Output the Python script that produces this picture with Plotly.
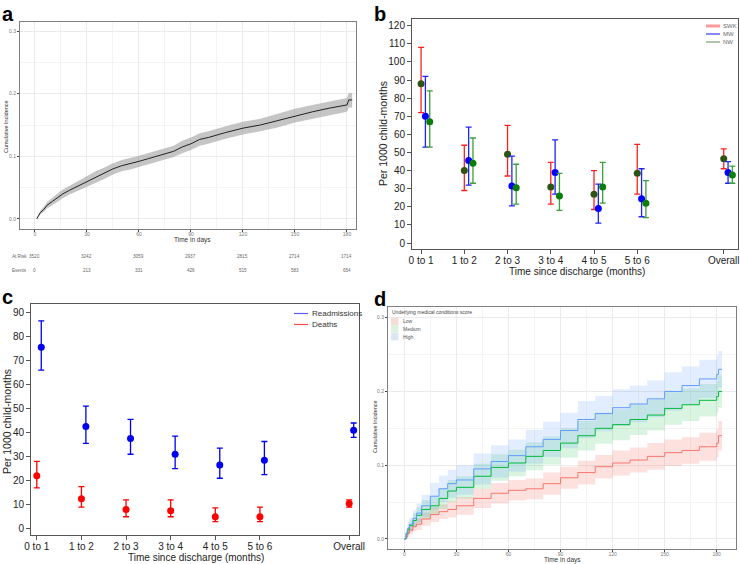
import plotly.graph_objects as go

# ---------------- Panel a data ----------------
a_days = [1, 2, 3, 5, 7, 10, 13, 16, 20, 25, 30, 35, 40, 45, 50, 55, 60, 65, 70, 75, 80, 85, 90, 95, 100,
          110, 120, 130, 140, 150, 160, 170, 180, 181, 183]
a_ci = [0.0, 0.005, 0.010, 0.015, 0.022, 0.028, 0.034, 0.040, 0.046, 0.053, 0.060, 0.067, 0.073, 0.080, 0.085,
        0.088, 0.092, 0.096, 0.100, 0.103, 0.108, 0.115, 0.120, 0.127, 0.130, 0.138, 0.145, 0.150, 0.157, 0.165,
        0.171, 0.177, 0.182, 0.190, 0.190]
a_lo = [0.0, 0.003, 0.007, 0.011, 0.017, 0.022, 0.028, 0.033, 0.039, 0.045, 0.052, 0.058, 0.064, 0.071, 0.076,
        0.079, 0.083, 0.087, 0.091, 0.094, 0.099, 0.105, 0.110, 0.117, 0.120, 0.128, 0.135, 0.140, 0.146, 0.154,
        0.160, 0.166, 0.171, 0.178, 0.178]
a_hi = [0.0, 0.008, 0.013, 0.019, 0.027, 0.034, 0.040, 0.047, 0.053, 0.061, 0.068, 0.076, 0.082, 0.089, 0.094,
        0.097, 0.101, 0.105, 0.109, 0.112, 0.117, 0.125, 0.130, 0.137, 0.140, 0.148, 0.155, 0.160, 0.168, 0.176,
        0.182, 0.188, 0.193, 0.201, 0.201]
a_table_days = [0, 30, 60, 90, 120, 150, 180]
a_at_risk = ["3520", "3242", "3059", "2937", "2815", "2714", "1714"]
a_events = ["0", "213", "331", "426", "515", "583", "654"]

# ---------------- Panel b data ----------------
b_cats = ["0 to 1", "1 to 2", "2 to 3", "3 to 4", "4 to 5", "5 to 6", "Overall"]
b_pos = [0, 1, 2, 3, 4, 5, 7]
b_series = ["SWK", "MW", "NW"]
b_val = {
    "SWK": [88, 40, 49, 31, 27, 38.5, 46.5],
    "MW": [70, 45.5, 31.5, 39, 19, 24.5, 39],
    "NW": [67, 44, 30.5, 26, 31, 22, 37.5],
}
b_lo = {
    "SWK": [72, 29, 37, 21.5, 18.5, 27, 41],
    "MW": [53, 32, 20.5, 27, 11, 14.5, 33],
    "NW": [53, 33, 21.5, 18, 22, 14, 33],
}
b_hi = {
    "SWK": [108, 54, 65, 44.5, 40, 54.5, 52],
    "MW": [92, 64, 48, 57, 32.5, 41, 45],
    "NW": [84, 58, 43.5, 38.5, 44.5, 34.5, 42.5],
}

# ---------------- Panel c data ----------------
c_series = ["Readmissions", "Deaths"]
c_val = {
    "Readmissions": [75.5, 42.5, 37.5, 31, 26.5, 28.5, 41],
    "Deaths": [22, 12.5, 8, 7.5, 5, 5, 10.5],
}
c_lo = {
    "Readmissions": [66, 35.5, 31, 25, 21, 22.5, 38],
    "Deaths": [17, 9, 5, 5, 3, 3, 9],
}
c_hi = {
    "Readmissions": [86.5, 51, 45.5, 38.5, 33.5, 36.3, 44],
    "Deaths": [28, 17.5, 12, 12, 8.7, 9, 12],
}

# ---------------- Panel d data ----------------
d_days = [0, 1, 2, 3, 5, 7, 10, 15, 20, 25, 30, 40, 50, 60, 70, 80, 90, 100, 110, 120, 130, 140, 150,
          160, 170, 180, 181, 183]
d_groups = ["Low", "Medium", "High"]
d_ci = {
    "High": [0, 0.008, 0.015, 0.020, 0.028, 0.035, 0.045, 0.058, 0.068, 0.075, 0.080, 0.095, 0.105, 0.113,
             0.125, 0.135, 0.147, 0.162, 0.170, 0.178, 0.183, 0.190, 0.200, 0.208, 0.217, 0.223, 0.230, 0.230],
    "Medium": [0, 0.007, 0.013, 0.018, 0.025, 0.032, 0.040, 0.045, 0.055, 0.065, 0.070, 0.085, 0.097, 0.103,
               0.112, 0.120, 0.130, 0.140, 0.150, 0.155, 0.162, 0.168, 0.177, 0.182, 0.188, 0.193, 0.200, 0.200],
    "Low": [0, 0.003, 0.008, 0.012, 0.017, 0.020, 0.027, 0.033, 0.037, 0.040, 0.045, 0.055, 0.062, 0.066,
            0.068, 0.075, 0.083, 0.090, 0.098, 0.103, 0.107, 0.112, 0.117, 0.120, 0.125, 0.130, 0.140, 0.140],
}
d_lo = {
    "High": [0, 0.002, 0.007, 0.011, 0.017, 0.022, 0.030, 0.040, 0.050, 0.056, 0.060, 0.074, 0.083, 0.091,
             0.102, 0.111, 0.123, 0.137, 0.146, 0.153, 0.158, 0.165, 0.174, 0.182, 0.191, 0.196, 0.205, 0.205],
    "Medium": [0, 0.002, 0.006, 0.010, 0.015, 0.021, 0.027, 0.032, 0.041, 0.050, 0.055, 0.068, 0.079, 0.085,
               0.093, 0.101, 0.110, 0.120, 0.129, 0.134, 0.141, 0.147, 0.155, 0.160, 0.166, 0.171, 0.178, 0.178],
    "Low": [0, 0.000, 0.003, 0.006, 0.010, 0.012, 0.018, 0.023, 0.027, 0.029, 0.033, 0.042, 0.048, 0.052,
            0.054, 0.060, 0.068, 0.074, 0.082, 0.086, 0.090, 0.094, 0.099, 0.102, 0.106, 0.111, 0.120, 0.120],
}
d_hi = {
    "High": [0, 0.014, 0.023, 0.029, 0.039, 0.048, 0.060, 0.076, 0.086, 0.094, 0.100, 0.116, 0.127, 0.135,
             0.148, 0.159, 0.171, 0.187, 0.194, 0.203, 0.208, 0.215, 0.226, 0.234, 0.243, 0.249, 0.255, 0.255],
    "Medium": [0, 0.012, 0.020, 0.026, 0.035, 0.043, 0.053, 0.058, 0.069, 0.080, 0.085, 0.102, 0.115, 0.121,
               0.131, 0.139, 0.150, 0.160, 0.171, 0.176, 0.183, 0.189, 0.199, 0.204, 0.210, 0.215, 0.222, 0.222],
    "Low": [0, 0.006, 0.013, 0.018, 0.024, 0.028, 0.036, 0.043, 0.047, 0.051, 0.057, 0.068, 0.076, 0.080,
            0.082, 0.090, 0.098, 0.106, 0.114, 0.120, 0.124, 0.130, 0.135, 0.138, 0.144, 0.149, 0.160, 0.160],
}

# ---------------- styles ----------------
W, H = 740, 564
def px(x0, x1):
    return [x0 / W, x1 / W]
def py(y_top, y_bot):
    return [1 - y_bot / H, 1 - y_top / H]
def PX(x):
    return x / W
def PY(y):
    return 1 - y / H

GG_FONT = "Liberation Sans"
fig = go.Figure()

# ----- Panel a -----
fig.add_trace(go.Scatter(x=a_days, y=a_lo, mode="lines", line=dict(width=0),
                         showlegend=False, xaxis="x", yaxis="y", hoverinfo="skip"))
fig.add_trace(go.Scatter(x=a_days, y=a_hi, mode="lines", line=dict(width=0),
                         fill="tonexty", fillcolor="rgba(150,150,150,0.55)",
                         showlegend=False, xaxis="x", yaxis="y", hoverinfo="skip"))
fig.add_trace(go.Scatter(x=a_days, y=a_ci, mode="lines", line=dict(width=1, color="#222222"),
                         showlegend=False, xaxis="x", yaxis="y"))

# ----- Panel b -----
b_err_col = {"SWK": "#ff2020", "MW": "#2222ff", "NW": "#3aa03a"}
b_mk_col = {"SWK": "#2f5410", "MW": "#0000ff", "NW": "#0b7d0b"}
for i, s in enumerate(b_series):
    xs = [p + 0.1 * i for p in b_pos]
    fig.add_trace(go.Scatter(
        x=xs, y=b_val[s], mode="markers", showlegend=False, name=s,
        marker=dict(size=7, color=b_mk_col[s]),
        error_y=dict(type="data", symmetric=False,
                     array=[h - v for h, v in zip(b_hi[s], b_val[s])],
                     arrayminus=[v - l for v, l in zip(b_val[s], b_lo[s])],
                     color=b_err_col[s], thickness=1.3, width=3),
        xaxis="x2", yaxis="y2"))

# ----- Panel c -----
c_col = {"Readmissions": "#0000ee", "Deaths": "#ff0000"}
c_off = {"Readmissions": 0.1, "Deaths": 0.0}
for s in c_series:
    xs = [p + c_off[s] for p in b_pos]
    fig.add_trace(go.Scatter(
        x=xs, y=c_val[s], mode="markers", showlegend=False, name=s,
        marker=dict(size=7, color=c_col[s]),
        error_y=dict(type="data", symmetric=False,
                     array=[h - v for h, v in zip(c_hi[s], c_val[s])],
                     arrayminus=[v - l for v, l in zip(c_val[s], c_lo[s])],
                     color=c_col[s], thickness=1.3, width=3),
        xaxis="x3", yaxis="y3"))

# ----- Panel d -----
d_line = {"Low": "#F8766D", "Medium": "#00BA38", "High": "#619CFF"}
d_fill = {"Low": "rgba(248,118,109,0.22)", "Medium": "rgba(0,186,56,0.15)", "High": "rgba(97,156,255,0.18)"}
d_key = {"Low": "#f7ddd9", "Medium": "#dcf2dc", "High": "#dde6f5"}
for g in d_groups:
    fig.add_trace(go.Scatter(x=d_days, y=d_lo[g], mode="lines", line=dict(width=0, shape="hv"),
                             showlegend=False, xaxis="x4", yaxis="y4", hoverinfo="skip"))
    fig.add_trace(go.Scatter(x=d_days, y=d_hi[g], mode="lines", line=dict(width=0, shape="hv"),
                             fill="tonexty", fillcolor=d_fill[g],
                             showlegend=False, xaxis="x4", yaxis="y4", hoverinfo="skip"))
for g in d_groups:
    fig.add_trace(go.Scatter(x=d_days, y=d_ci[g], mode="lines", name=g,
                             line=dict(width=1, color=d_line[g], shape="hv"),
                             showlegend=False, xaxis="x4", yaxis="y4"))

# ---------------- axes ----------------
gg_axis = dict(showgrid=True, gridcolor="#ebebeb", gridwidth=1, zeroline=False, automargin=False,
               showline=True, linecolor="#7f7f7f", linewidth=1, mirror=True,
               ticks="outside", ticklen=2, tickcolor="#444444",
               tickfont=dict(size=5, color="#777777", family=GG_FONT))
ax_common = dict(showgrid=False, zeroline=False, showline=True, linecolor="#555555", mirror=True,
                 automargin=False, ticks="outside", ticklen=4, tickcolor="#555555",
                 tickfont=dict(size=10, color="#222222"))

fig.update_layout(
    width=W, height=H, margin=dict(l=0, r=0, t=0, b=0, autoexpand=False),
    paper_bgcolor="white", plot_bgcolor="white", showlegend=False,
    font=dict(family=GG_FONT),
    xaxis=dict(gg_axis, domain=px(20, 356), range=[-8.65, 185.2], tickvals=a_table_days,
               minor=dict(showgrid=True, gridcolor="#f4f4f4", dtick=15, tick0=0),
               ticklabelstandoff=-2, anchor="y"),
    yaxis=dict(gg_axis, domain=py(22, 229), range=[-0.016, 0.3144], tickvals=[0, 0.1, 0.2, 0.3],
               tickformat=".1f",
               minor=dict(showgrid=True, gridcolor="#f4f4f4", dtick=0.05, tick0=0),
               anchor="x"),
    xaxis4=dict(gg_axis, domain=px(388, 736), range=[-9.4, 191.1], tickvals=a_table_days,
                minor=dict(showgrid=True, gridcolor="#f4f4f4", dtick=15, tick0=0),
                ticklabelstandoff=-2, anchor="y4"),
    yaxis4=dict(gg_axis, domain=py(307, 549), range=[-0.0136, 0.3145], tickvals=[0, 0.1, 0.2, 0.3],
                tickformat=".1f",
                minor=dict(showgrid=True, gridcolor="#f4f4f4", dtick=0.05, tick0=0),
                anchor="x4"),
    xaxis2=dict(ax_common, domain=px(412, 738), range=[-0.21, 7.33], tickvals=b_pos, ticktext=b_cats,
                ticklabelstandoff=-2, anchor="y2"),
    yaxis2=dict(ax_common, domain=py(19, 249), range=[-3.3, 123.7], tickvals=list(range(0, 121, 10)),
                anchor="x2"),
    xaxis3=dict(ax_common, domain=px(31, 359), range=[-0.13, 7.22], tickvals=b_pos, ticktext=b_cats,
                ticklabelstandoff=-2, anchor="y3"),
    yaxis3=dict(ax_common, domain=py(304, 535), range=[-2.6, 93.5], tickvals=list(range(0, 91, 10)),
                anchor="x3"),
)

# ---------------- annotations & legend keys ----------------
ann = []
shapes = []

def text(t, x, y, size, color="#333333", angle=0, xanchor="center", xref="paper"):
    ann.append(dict(text=t, x=(x if xref != "paper" else PX(x)), y=PY(y), xref=xref, yref="paper",
                    xanchor=xanchor, yanchor="middle", showarrow=False, textangle=angle,
                    font=dict(size=size, color=color)))

for lab, x, y in [("a", 0, 1), ("b", 372, 1), ("c", 0, 284), ("d", 372, 286)]:
    ann.append(dict(text="<b>%s</b>" % lab, x=PX(x), y=PY(y), xref="paper", yref="paper",
                    xanchor="left", yanchor="top", showarrow=False,
                    font=dict(size=20, color="black", family="Liberation Sans")))

# axis titles
text("Cumulative Incidence", 6, 127, 5.5, angle=-90)
text("Time in days", 192, 240.5, 6.5)
text("Cumulative Incidence", 375, 427, 5.5, angle=-90)
text("Time in days", 562, 559.5, 6.5)
text("Per 1000 child-months", 383, 134, 10.5, color="#222222", angle=-90)
text("Time since discharge (months)", 577, 271.5, 10, color="#222222")
text("Per 1000 child-months", 7, 422, 10.5, color="#222222", angle=-90)
text("Time since discharge (months)", 196, 557.5, 10, color="#222222")

# risk table
text("At Risk", 10, 256, 4.6, color="#666666", xanchor="left")
text("Events", 10, 270, 4.6, color="#666666", xanchor="left")
for d, r, e in zip(a_table_days, a_at_risk, a_events):
    text(r, d, 256, 4.6, color="#666666", xref="x")
    text(e, d, 270, 4.6, color="#666666", xref="x")

# legend b
b_leg_col = {"SWK": "#ff9a9a", "MW": "#3333ff", "NW": "#7f9f70"}
b_leg_w = {"SWK": 3, "MW": 1.2, "NW": 1.2}
for s, y in zip(b_series, [26, 34, 42]):
    shapes.append(dict(type="line", xref="paper", yref="paper", x0=PX(706), x1=PX(720), y0=PY(y), y1=PY(y),
                       line=dict(color=b_leg_col[s], width=b_leg_w[s])))
    text(s, 721, y, 6, color="#666666", xanchor="left")
# legend c
c_leg_col = {"Readmissions": "#5a5aff", "Deaths": "#ff4a4a"}
for s, y in zip(c_series, [313.5, 324.5]):
    shapes.append(dict(type="line", xref="paper", yref="paper", x0=PX(294), x1=PX(308), y0=PY(y), y1=PY(y),
                       line=dict(color=c_leg_col[s], width=1.2)))
    text(s, 310, y, 8, color="#333333", xanchor="left")
# legend d
text("Underlying medical conditions score", 390, 312, 5, color="#444444", xanchor="left")
for g, y0 in zip(d_groups, [317.5, 325.2, 332.9]):
    shapes.append(dict(type="rect", xref="paper", yref="paper", x0=PX(391), x1=PX(398.5),
                       y0=PY(y0 + 7.5), y1=PY(y0), fillcolor=d_key[g], line=dict(width=0)))
    text(g, 400.5, y0 + 3.8, 5, color="#555555", xanchor="left")

fig.update_layout(annotations=ann, shapes=shapes)

fig.write_html("out.html", config={"displayModeBar": False},
               post_script="document.body.style.margin='0px';")
